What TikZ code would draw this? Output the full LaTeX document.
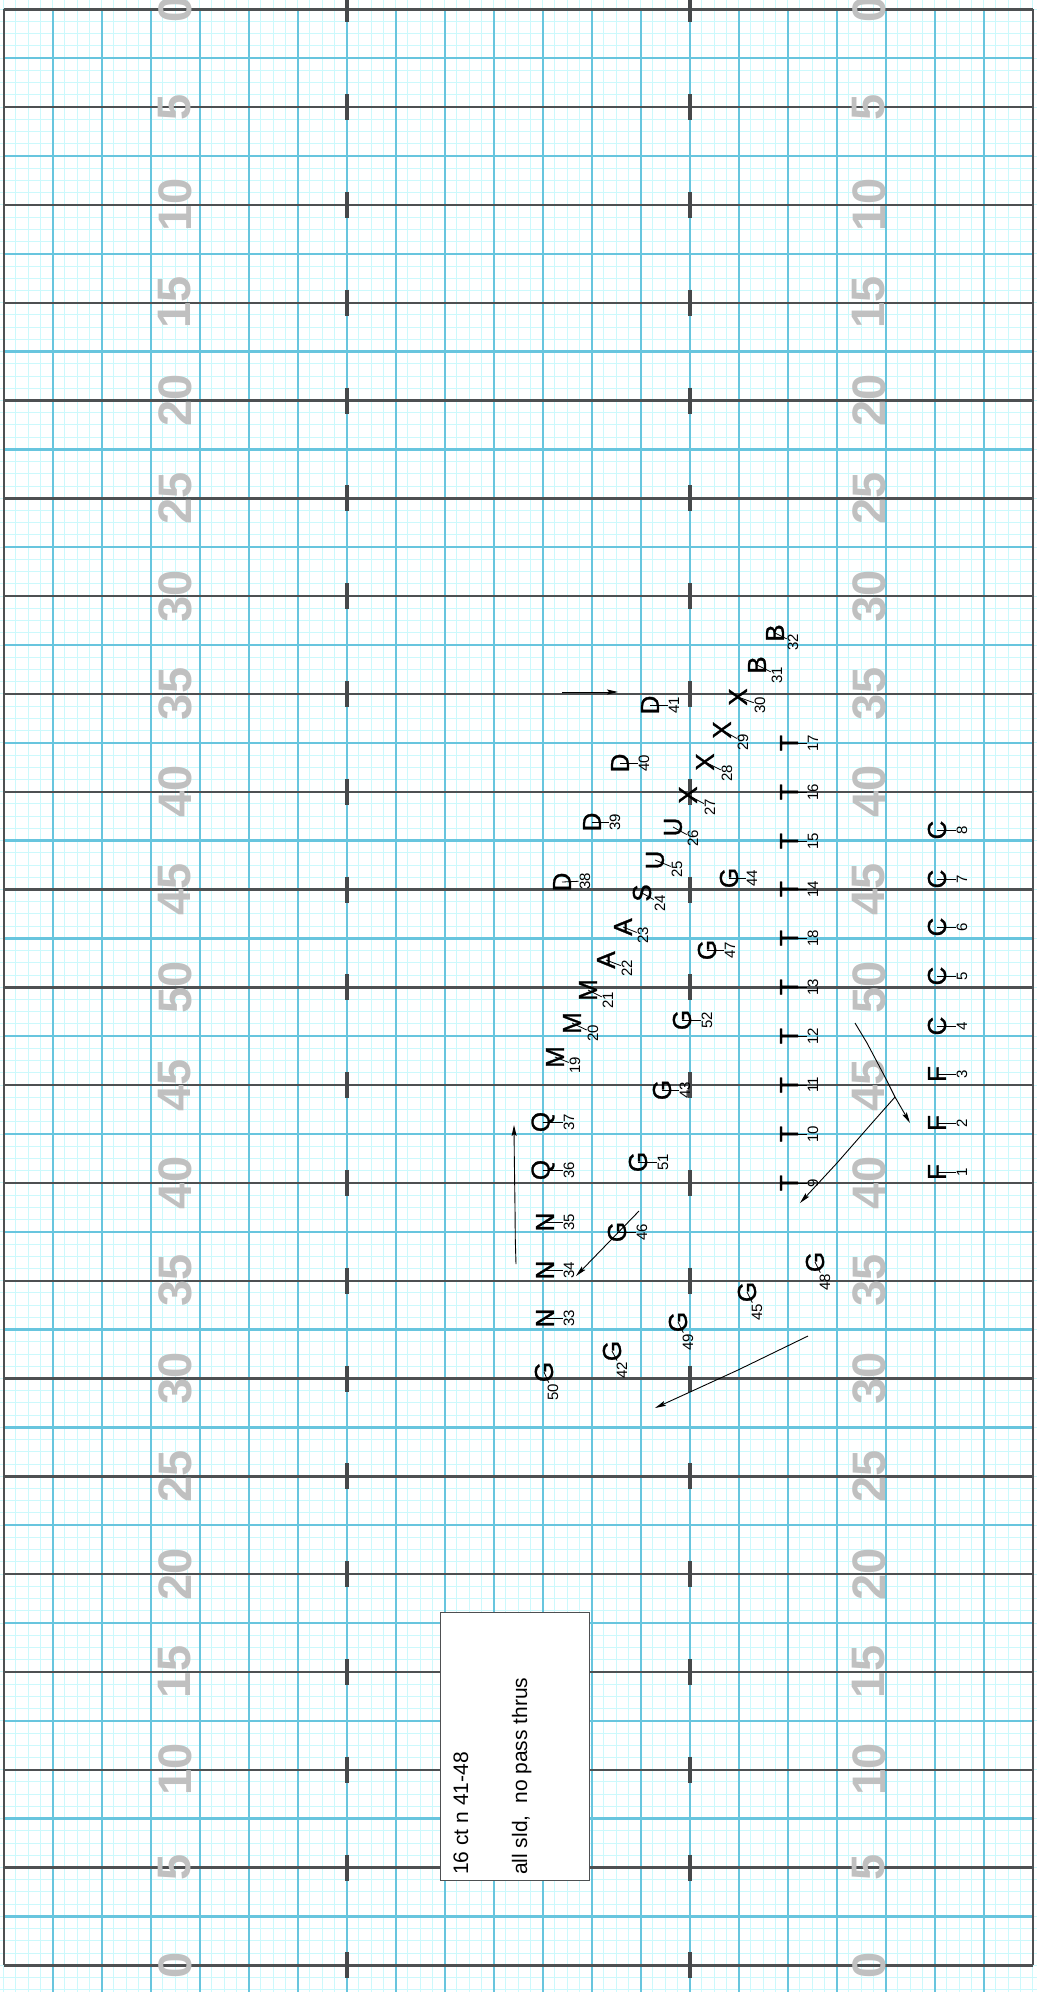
\documentclass[tikz,border=0pt]{standalone}
\usepackage{fontspec}
\setmainfont{Liberation Sans}
\newfontfamily\plfont[FakeBold=1]{Liberation Sans}
\usetikzlibrary{arrows.meta}
\definecolor{gfine}{RGB}{204,249,252}
\definecolor{gblue}{RGB}{104,197,222}
\definecolor{gdark}{RGB}{78,80,82}
\definecolor{ynum}{RGB}{192,192,192}
\newcommand\plnodes[7]{%
  \node[plet] (#1) at (#3,#4) {#2};
  \node[pnum] (#1n) at ({#3+#6},{#4+#7}) {#5};
  \draw[leader] (#1.center) -- (#1n);
}
\begin{document}
\begin{tikzpicture}[x=1pt,y=-1pt,
  fineln/.style={draw=gfine,line width=1pt},
  blueln/.style={draw=gblue,line width=2.4pt},
  darkln/.style={draw=gdark,line width=2.4pt},
  hashmk/.style={draw=gdark!90!black,line width=3.6pt},
  yardnum/.style={text=ynum,rotate=90,inner sep=0pt,font={\fontsize{47}{47}\selectfont\bfseries}},
  plet/.style={rotate=90,inner sep=0.5pt,font={\plfont\fontsize{26}{26}\selectfont}},
  pnum/.style={rotate=90,inner sep=0.8pt,font={\fontsize{15}{15}\selectfont}},
  leader/.style={draw=black,line width=0.8pt},
  arr/.style={draw=black,line width=0.9pt,-{Stealth[length=11pt,width=5pt,inset=2pt]}},
  notetext/.style={rotate=90,inner sep=0pt,anchor=base west,font={\fontsize{21}{21}\selectfont}}
]
\useasboundingbox (0,0) rectangle (1037,1992);
\fill[white] (0,0) rectangle (1037,1992);
% fine grid
\foreach \k in {0,...,84} \draw[fineln] ({3.7+12.25*\k},0) -- ({3.7+12.25*\k},1992);
\foreach \k in {0,...,162} \draw[fineln] (0,{9.3+12.225*\k}) -- (1037,{9.3+12.225*\k});
% blue lines
\foreach \c in {1,...,20} \draw[blueln] ({3.7+49*\c},9.3) -- ({3.7+49*\c},1992);
\foreach \r in {1,3,...,39} \draw[blueln] (3.7,{9.3+48.9*\r}) -- (1032.7,{9.3+48.9*\r});
% dark lines
\foreach \r in {0,2,...,40} \draw[darkln] (3.7,{9.3+48.9*\r}) -- (1032.7,{9.3+48.9*\r});
\draw[darkln] (3.7,9.3) -- (3.7,1965.3);
\draw[darkln] (1032.7,9.3) -- (1032.7,1965.3);
% hash marks
\foreach \r in {0,2,...,40} {
  \draw[hashmk] (346.7,{9.3+48.9*\r-13}) -- (346.7,{9.3+48.9*\r+13});
  \draw[hashmk] (689.7,{9.3+48.9*\r-13}) -- (689.7,{9.3+48.9*\r+13});
}
% yard numbers
\foreach \r/\t in {0/0,2/5,4/10,6/15,8/20,10/25,12/30,14/35,16/40,18/45,20/50,22/45,24/40,26/35,28/30,30/25,32/20,34/15,36/10,38/5,40/0} {
  \node[yardnum] (yl\r) at (175,{9.3+48.9*\r}) {\t};
  \node[yardnum] (yr\r) at (869,{9.3+48.9*\r}) {\t};
}
% players
\plnodes{p1}{F}{937}{1172}{1}{25}{0}
\plnodes{p2}{F}{937}{1123}{2}{25}{0}
\plnodes{p3}{F}{937}{1074}{3}{25}{0}
\plnodes{p4}{C}{937}{1026}{4}{25}{0}
\plnodes{p5}{C}{937}{976}{5}{25}{0}
\plnodes{p6}{C}{937}{927}{6}{25}{0}
\plnodes{p7}{C}{937}{879}{7}{25}{0}
\plnodes{p8}{C}{937}{830}{8}{25}{0}
\plnodes{p9}{T}{789}{1183}{9}{24}{0}
\plnodes{p10}{T}{789}{1134}{10}{24}{0}
\plnodes{p11}{T}{789}{1085}{11}{24}{0}
\plnodes{p12}{T}{789}{1036}{12}{24}{0}
\plnodes{p13}{T}{789}{987}{13}{24}{0}
\plnodes{p18}{T}{789}{938}{18}{24}{0}
\plnodes{p14}{T}{789}{889}{14}{24}{0}
\plnodes{p15}{T}{789}{841}{15}{24}{0}
\plnodes{p16}{T}{789}{792}{16}{24}{0}
\plnodes{p17}{T}{789}{743}{17}{24}{0}
\plnodes{p19}{M}{555}{1057}{19}{20}{8}
\plnodes{p20}{M}{572}{1023}{20}{21}{10}
\plnodes{p21}{M}{588}{990}{21}{20}{10}
\plnodes{p22}{A}{606}{960}{22}{21}{8}
\plnodes{p23}{A}{623}{927}{23}{20}{8}
\plnodes{p24}{S}{642}{893}{24}{18}{10}
\plnodes{p25}{U}{655}{860}{25}{22}{9}
\plnodes{p26}{U}{673}{827}{26}{20}{11}
\plnodes{p27}{X}{688}{795}{27}{22}{12}
\plnodes{p28}{X}{705}{762}{28}{22}{11}
\plnodes{p29}{X}{722}{730}{29}{21}{12}
\plnodes{p30}{X}{738}{697}{30}{22}{8}
\plnodes{p31}{B}{757}{665}{31}{20}{10}
\plnodes{p32}{B}{775}{633}{32}{18}{9}
\plnodes{p33}{N}{545}{1318}{33}{24}{0}
\plnodes{p34}{N}{545}{1270}{34}{24}{0}
\plnodes{p35}{N}{545}{1222}{35}{24}{0}
\plnodes{p36}{Q}{543}{1170}{36}{26}{0}
\plnodes{p37}{Q}{543}{1122}{37}{26}{0}
\plnodes{p38}{D}{562}{882}{38}{23}{-1}
\plnodes{p39}{D}{592}{822}{39}{23}{0}
\plnodes{p40}{D}{620}{763}{40}{24}{0}
\plnodes{p41}{D}{650}{705}{41}{24}{0}
\plnodes{p42}{G}{612}{1351}{42}{10}{19}
\plnodes{p43}{G}{662}{1090}{43}{23}{0}
\plnodes{p44}{G}{729}{878}{44}{23}{0}
\plnodes{p45}{G}{747}{1292}{45}{10}{20}
\plnodes{p46}{G}{617}{1232}{46}{25}{0}
\plnodes{p47}{G}{707}{950}{47}{23}{0}
\plnodes{p48}{G}{815}{1262}{48}{10}{20}
\plnodes{p49}{G}{678}{1322}{49}{10}{20}
\plnodes{p50}{G}{544}{1372}{50}{9}{20}
\plnodes{p51}{G}{638}{1162}{51}{25}{0}
\plnodes{p52}{G}{682}{1020}{52}{25}{0}
% arrows
\coordinate (a1s) at (562,692); \coordinate (a1e) at (618,692);
\draw[arr] (a1s) -- (a1e);
\coordinate (a2s) at (516,1264); \coordinate (a2m1) at (515.3,1240); \coordinate (a2m2) at (515,1207); \coordinate (a2m3) at (514.3,1157); \coordinate (a2e) at (514,1125);
\draw[arr] (a2s) -- (a2m1) -- (a2m2) -- (a2m3) -- (a2e);
\coordinate (a3s) at (639,1211); \coordinate (a3e) at (576,1276);
\draw[arr] (a3s) -- (a3e);
\coordinate (a4s) at (808,1336); \coordinate (a4m1) at (738,1370); \coordinate (a4m2) at (690,1392); \coordinate (a4e) at (655,1408);
\draw[arr] (a4s) -- (a4m1) -- (a4m2) -- (a4e);
\coordinate (a5s) at (855,1023); \coordinate (a5m1) at (867,1043); \coordinate (a5m2) at (885,1077); \coordinate (a5k) at (895,1097); \coordinate (a5e) at (910,1123);
\draw[arr] (a5s) -- (a5m1) -- (a5m2) -- (a5k) -- (a5e);
\coordinate (a6m1) at (872,1123); \coordinate (a6m2) at (837,1163); \coordinate (a6e) at (800,1203);
\draw[arr] (a5k) -- (a6m1) -- (a6m2) -- (a6e);
% note box
\node[draw=gdark,fill=white,line width=1.2pt,anchor=north west,minimum width=149pt,minimum height=268pt,inner sep=0pt] (note) at (440,1612) {};
\node[notetext] (t1) at (468,1875) {16 ct n 41-48};
\node[notetext] (t2) at (527,1875) {all sld,\ \ no pass thrus};
\end{tikzpicture}
\end{document}
